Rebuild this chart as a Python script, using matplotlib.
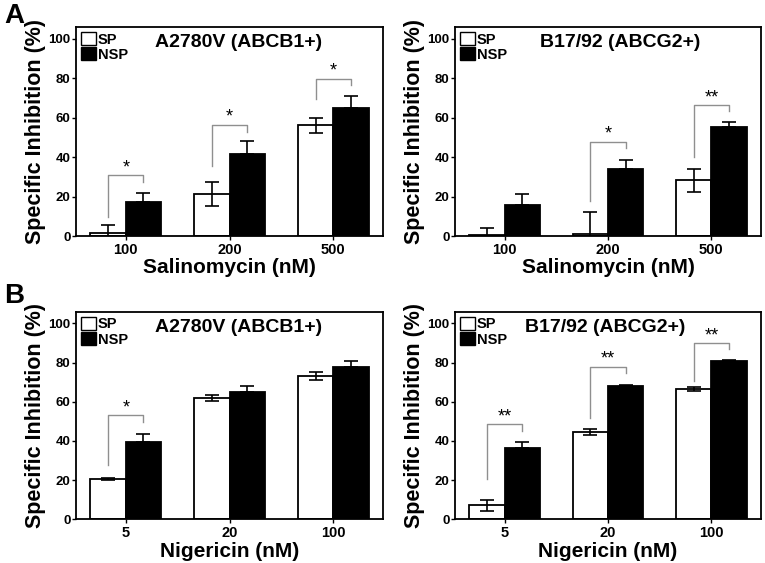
import numpy as np
import matplotlib
matplotlib.use("Agg")
from matplotlib import pyplot as plt
from matplotlib.patches import Patch

plt.rcParams['font.family'] = ['Liberation Sans', 'DejaVu Sans']
plt.rcParams['font.weight'] = 'bold'

# panel A: salinomycin
sal_doses = ["100", "200", "500"]
a1_sp = [1.4, 21.2, 56.1]
a1_sp_err = [4.0, 6.0, 4.0]
a1_nsp = [17.1, 41.7, 64.7]
a1_nsp_err = [4.6, 6.4, 6.1]
a1_sig = ["*", "*", "*"]
a1_brk = [30.7, 56.4, 79.7]
a1_left = [9.8, 35.3, 69.7]
a1_right = [27.6, 53.0, 76.8]

a2_sp = [0.4, 1.2, 28.3]
a2_sp_err = [3.5, 10.8, 5.9]
a2_nsp = [15.8, 34.1, 55.1]
a2_nsp_err = [5.6, 4.5, 2.5]
a2_sig = ["", "*", "**"]
a2_brk = [None, 47.8, 66.4]
a2_left = [None, 17.6, 40.3]
a2_right = [None, 44.4, 63.6]

# panel B: nigericin
nig_doses = ["5", "20", "100"]
b1_sp = [20.5, 61.9, 73.1]
b1_sp_err = [0.5, 1.6, 2.0]
b1_nsp = [39.3, 64.9, 77.6]
b1_nsp_err = [4.4, 3.2, 3.1]
b1_sig = ["*", "", ""]
b1_brk = [53.1, None, None]
b1_left = [27.6, None, None]
b1_right = [49.7, None, None]

b2_sp = [7.1, 44.4, 66.6]
b2_sp_err = [2.7, 1.5, 1.2]
b2_nsp = [36.6, 68.1, 80.7]
b2_nsp_err = [2.7, 0.5, 0.8]
b2_sig = ["**", "**", "**"]
b2_brk = [48.5, 78.0, 90.0]
b2_left = [20.5, 51.9, 70.8]
b2_right = [45.1, 74.6, 86.9]

fig = plt.figure(figsize=(7.65, 5.63), dpi=100)

W = 0.34


def panel(rect, title, title_x, doses, xlabel, sp, sp_err, nsp, nsp_err, sig, brk, left, right):
    ax = fig.add_axes(rect)
    x = np.arange(len(doses))
    ax.bar(x - W / 2, sp, W, color='white', edgecolor='black', linewidth=1.3, zorder=2)
    ax.bar(x + W / 2, nsp, W, color='black', edgecolor='black', linewidth=1.3, zorder=2)
    ax.errorbar(x - W / 2, sp, yerr=sp_err, fmt='none', ecolor='black', elinewidth=1.2,
                capsize=5, capthick=1.2, zorder=3)
    ax.errorbar(x + W / 2, nsp, yerr=[[0] * len(nsp), nsp_err], fmt='none', ecolor='black',
                elinewidth=1.2, capsize=5, capthick=1.2, zorder=3)
    for i, s in enumerate(sig):
        if not s:
            continue
        xl, xr = x[i] - W / 2, x[i] + W / 2
        ax.plot([xl, xl, xr, xr], [left[i], brk[i], brk[i], right[i]], color='#8f8f8f',
                linewidth=1.0, zorder=4)
        ax.text(x[i], brk[i] - 0.5, s, ha='center', va='bottom', fontsize=13,
                fontweight='normal')
    ax.set_xlim(-0.48, 2.48)
    ax.set_ylim(0, 106)
    ax.set_yticks([0, 20, 40, 60, 80, 100])
    ax.set_xticks(x)
    ax.set_xticklabels(doses)
    ax.tick_params(axis='y', length=3, width=1, labelsize=9.5, pad=1)
    ax.tick_params(axis='x', length=3, width=1, labelsize=10.5, pad=2)
    for sp_ in ax.spines.values():
        sp_.set_linewidth(1.3)
    ax.set_xlabel(xlabel, fontsize=15, fontweight='bold', labelpad=1)
    ax.set_ylabel("Specific Inhibition (%)", fontsize=15.5, fontweight='bold', labelpad=2)
    ax.text(title_x, 0.925, title, transform=ax.transAxes, ha='center', va='center',
            fontsize=14, fontweight='bold')
    handles = [Patch(facecolor='white', edgecolor='black', linewidth=1),
               Patch(facecolor='black', edgecolor='black', linewidth=1)]
    ax.legend(handles, ["SP", "NSP"], loc='upper left', frameon=False, fontsize=10.5,
              handlelength=1.0, handleheight=1.0, handletextpad=0.15, labelspacing=0.05,
              borderaxespad=0.15, borderpad=0.2)
    return ax


top = [0.5808, 0.952 - 0.5808]
bot = [0.0776, 0.4464 - 0.0776]
panel([0.0993, top[0], 0.4014, top[1]], "A2780V (ABCB1+)", 0.53, sal_doses, "Salinomycin (nM)",
      a1_sp, a1_sp_err, a1_nsp, a1_nsp_err, a1_sig, a1_brk, a1_left, a1_right)
panel([0.5948, top[0], 0.4, top[1]], "B17/92 (ABCG2+)", 0.54, sal_doses, "Salinomycin (nM)",
      a2_sp, a2_sp_err, a2_nsp, a2_nsp_err, a2_sig, a2_brk, a2_left, a2_right)
panel([0.0993, bot[0], 0.4014, bot[1]], "A2780V (ABCB1+)", 0.53, nig_doses, "Nigericin (nM)",
      b1_sp, b1_sp_err, b1_nsp, b1_nsp_err, b1_sig, b1_brk, b1_left, b1_right)
panel([0.5948, bot[0], 0.4, bot[1]], "B17/92 (ABCG2+)", 0.49, nig_doses, "Nigericin (nM)",
      b2_sp, b2_sp_err, b2_nsp, b2_nsp_err, b2_sig, b2_brk, b2_left, b2_right)

fig.text(0.005, 0.995, "A", fontsize=20, fontweight='bold', va='top', ha='left')
fig.text(0.005, 0.497, "B", fontsize=20, fontweight='bold', va='top', ha='left')

fig.savefig("out.png", dpi=100)
